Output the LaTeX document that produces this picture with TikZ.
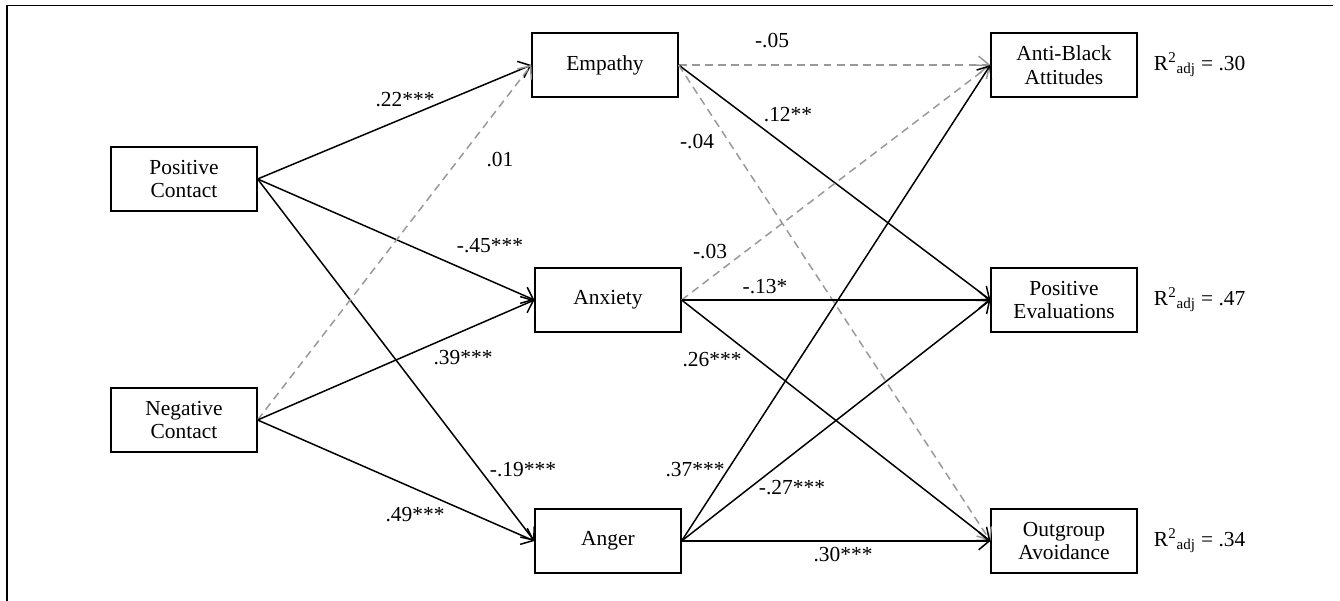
\documentclass[tikz,border=0pt]{standalone}
\usepackage{fontspec}
\setmainfont{Liberation Serif}
\usetikzlibrary{arrows.meta,positioning}

\tikzset{
    var/.style={draw, line width=0.7pt, minimum width=2.92cm, minimum height=1.28cm, align=center, inner sep=2pt},
    eff/.style={-{Straight Barb[length=6pt,width=10pt]}, line width=0.85pt},
    nseff/.style={eff, gray!80, dash pattern=on 4.5pt off 3pt},
    coef/.style={inner sep=0pt}
}

\begin{document}
\begin{tikzpicture}[x=0.02cm,y=-0.02cm,font=\fontsize{12.2}{13.6}\selectfont]
            \useasboundingbox (0,0) rectangle (1340,601);
            \draw[line width=1.1pt] (7,601) -- (7,5.5) -- (1333,5.5);

            % predictors
            \node[var] (pc) at (184,179) {Positive\\Contact};
            \node[var] (nc) at (184,420) {Negative\\Contact};
            % mediators
            \node[var] (emp) at (605,65) {Empathy};
            \node[var] (anx) at (608,300) {Anxiety};
            \node[var] (ang) at (608,541) {Anger};
            % outcomes
            \node[var] (ab) at (1064,65) {Anti-Black\\Attitudes};
            \node[var] (pe) at (1064,300) {Positive\\Evaluations};
            \node[var] (oa) at (1064,541) {Outgroup\\Avoidance};
            \node[coef, right=0.32cm of ab] (r1) {R\textsuperscript{2}\textsubscript{adj} = .30};
            \node[coef, right=0.32cm of pe] (r2) {R\textsuperscript{2}\textsubscript{adj} = .47};
            \node[coef, right=0.32cm of oa] (r3) {R\textsuperscript{2}\textsubscript{adj} = .34};

            % contact -> emotions
            \draw[eff] (pc.east) -- (emp.west);
            \draw[eff] (pc.east) -- (anx.west);
            \draw[eff] (pc.east) -- (ang.west);
            \draw[nseff] (nc.east) -- (emp.west);
            \draw[eff] (nc.east) -- (anx.west);
            \draw[eff] (nc.east) -- (ang.west);
            % emotions -> outcomes
            \draw[nseff] (emp.east) -- (ab.west);
            \draw[eff] (emp.east) -- (pe.west);
            \draw[nseff] (emp.east) -- (oa.west);
            \draw[nseff] (anx.east) -- (ab.west);
            \draw[eff] (anx.east) -- (pe.west);
            \draw[eff] (anx.east) -- (oa.west);
            \draw[eff] (ang.east) -- (ab.west);
            \draw[eff] (ang.east) -- (pe.west);
            \draw[eff] (ang.east) -- (oa.west);

            \node[coef] (c1) at (405,100) {.22***};
            \node[coef] (c2) at (500,160) {.01};
            \node[coef] (c3) at (490,246) {-.45***};
            \node[coef] (c4) at (463,358) {.39***};
            \node[coef] (c5) at (523,470) {-.19***};
            \node[coef] (c6) at (415,515) {.49***};
            \node[coef] (c7) at (772,41) {-.05};
            \node[coef] (c8) at (788,115) {.12**};
            \node[coef] (c9) at (697,142) {-.04};
            \node[coef] (c10) at (710,252) {-.03};
            \node[coef] (c11) at (765,287) {-.13*};
            \node[coef] (c12) at (712,360) {.26***};
            \node[coef] (c13) at (695,470) {.37***};
            \node[coef] (c14) at (792,488) {-.27***};
            \node[coef] (c15) at (843,555) {.30***};
\end{tikzpicture}
\end{document}
